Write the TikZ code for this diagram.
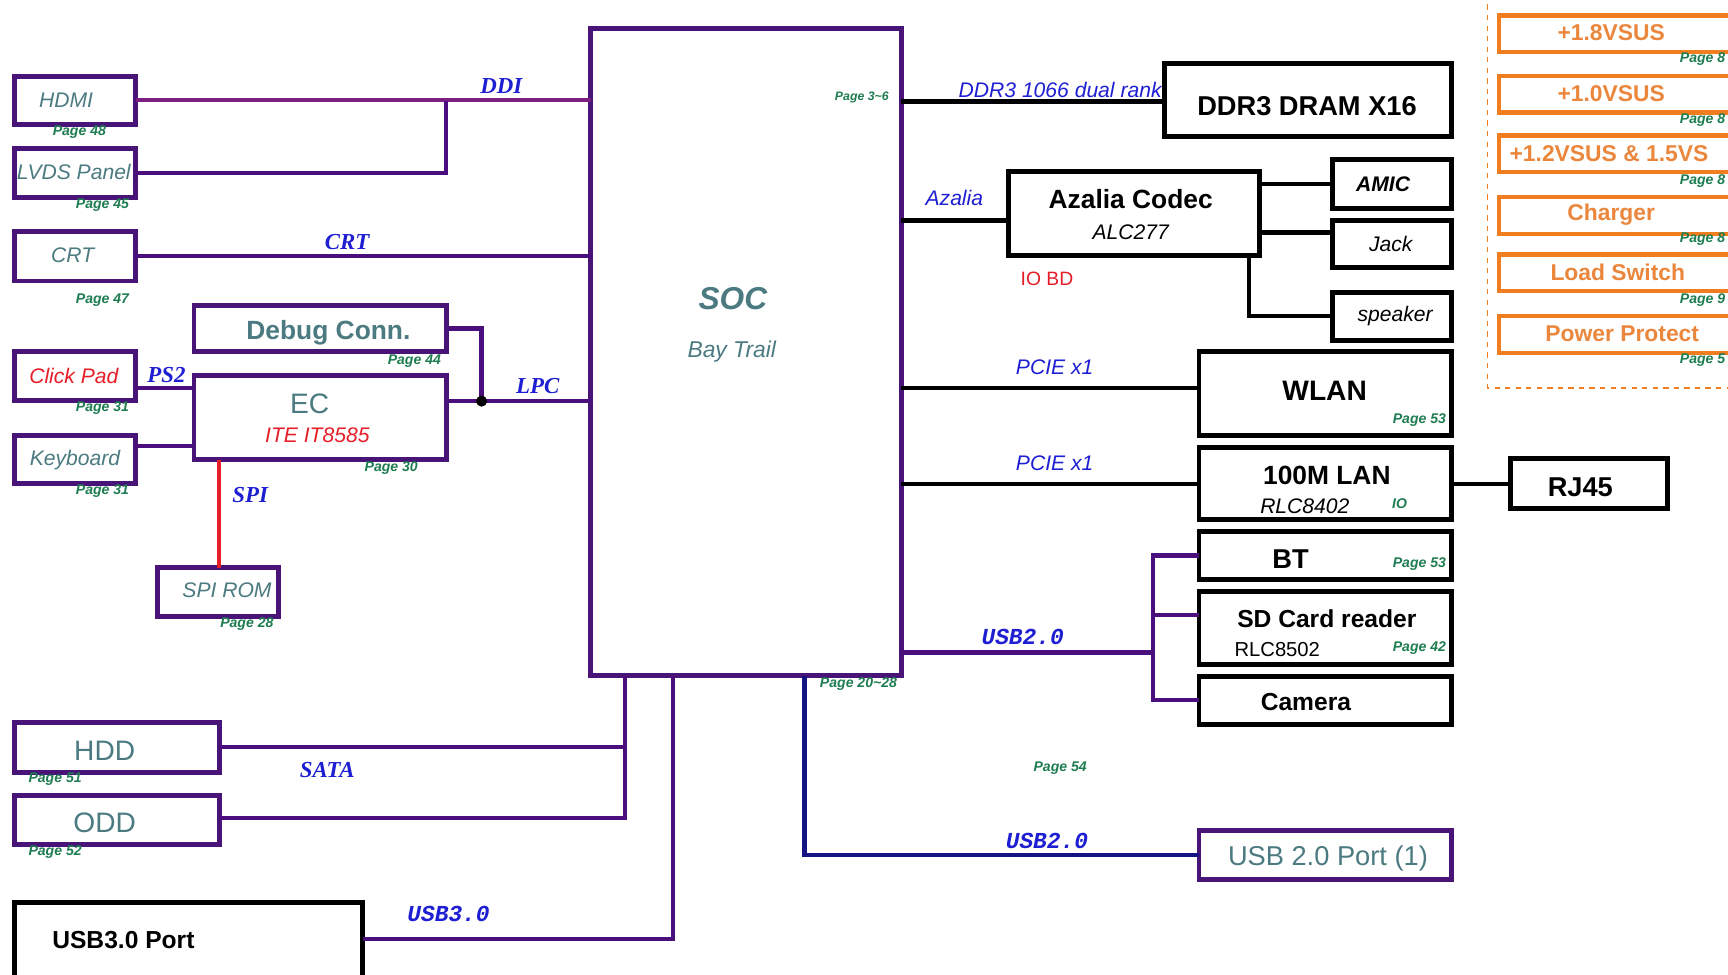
\documentclass[tikz,border=0pt]{standalone}
\usepackage{fontspec}
\setmainfont{Liberation Sans}
\newfontfamily\serifbi{Liberation Serif}
\newfontfamily\monobi{Liberation Mono}
\newlength\pxl
\setlength\pxl{0.02204cm}
\newcommand\fs[1]{\fontsize{#1}{#1}\selectfont}
\definecolor{boxpurple}{RGB}{72,20,120}
\definecolor{linepurple}{RGB}{75,15,125}
\definecolor{ddicol}{RGB}{125,30,130}
\definecolor{navyl}{RGB}{20,20,130}
\definecolor{tealt}{RGB}{75,122,128}
\definecolor{pgreen}{RGB}{30,125,80}
\definecolor{lblue}{RGB}{30,30,210}
\definecolor{orng}{RGB}{240,125,30}
\definecolor{otext}{RGB}{235,135,60}
\definecolor{redt}{RGB}{230,30,40}
\newcommand\bx[6]{\node[#1, minimum width={(#5-#3)*\pxl}, minimum height={(#6-#4)*\pxl}] (#2) at ({(#3+#5)/2},{(#4+#6)/2}) {};}
\tikzset{
  allbox/.style={rectangle, inner sep=0pt, outer sep=0pt, line width=2.8pt},
  pbox/.style={allbox, draw=boxpurple},
  kbox/.style={allbox, draw=black},
  obox/.style={allbox, draw=orng, line width=2.4pt},
  pline/.style={draw=linepurple, line width=2.4pt},
  dline/.style={draw=ddicol, line width=2.4pt},
  kline/.style={draw=black, line width=2.4pt},
  nline/.style={draw=navyl, line width=2.4pt},
  rline/.style={draw=redt, line width=2.4pt},
  txt/.style={inner sep=0pt},
  pg/.style={txt, text=pgreen, font=\fs{8}\bfseries\itshape},
  bser/.style={txt, text=lblue, font=\serifbi\fs{13}\bfseries\itshape},
  bmono/.style={txt, text=lblue, font=\monobi\fs{13}\bfseries\itshape},
  bsans/.style={txt, text=lblue, font=\fs{12}\itshape},
  tl/.style={txt, text=tealt},
  kt/.style={txt, text=black},
  ot/.style={txt, text=otext, font=\fs{13}\bfseries},
}
\begin{document}
\begin{tikzpicture}[x=0.02204cm, y=-0.02204cm]
\clip (0,0) rectangle (1568,884);
\fill[white] (0,0) rectangle (1568,884);
% ---------- boxes ----------
\bx{pbox}{soc}{536}{26}{818}{613}
\bx{pbox}{hdmi}{13}{69}{123}{113}
\bx{pbox}{lvds}{13}{135}{123}{179}
\bx{pbox}{crt}{13}{210}{123}{255}
\bx{pbox}{debug}{176}{277}{405}{319}
\bx{pbox}{clickpad}{13}{319}{123}{363}
\bx{pbox}{ec}{176}{341}{405}{417}
\bx{pbox}{keyboard}{13}{395}{123}{439}
\bx{pbox}{spirom}{143}{515}{253}{559}
\bx{pbox}{hdd}{13}{656}{199}{701}
\bx{pbox}{odd}{13}{722}{199}{766}
\bx{kbox}{usb3}{13}{819}{329}{895}
\bx{kbox}{ddr}{1057}{58}{1317}{124}
\bx{kbox}{codec}{915}{156}{1143}{232}
\bx{kbox}{amic}{1209}{145}{1317}{189}
\bx{kbox}{jack}{1209}{200}{1317}{243}
\bx{kbox}{speaker}{1209}{265}{1317}{309}
\bx{kbox}{wlan}{1088}{319}{1317}{395}
\bx{kbox}{lan}{1088}{406}{1317}{471}
\bx{kbox}{rj45}{1371}{416}{1513}{461}
\bx{kbox}{bt}{1088}{482}{1317}{526}
\bx{kbox}{sd}{1088}{537}{1317}{603}
\bx{kbox}{camera}{1088}{614}{1317}{657}
\bx{pbox}{usb2p}{1088}{754}{1317}{798}
% power column
\draw[orng, line width=0.8pt, dashed] (1350,4) -- (1350,352) -- (1570,352);
\bx{obox}{p18}{1360}{14}{1575}{47}
\bx{obox}{p10}{1360}{69}{1575}{102}
\bx{obox}{p12}{1360}{123}{1575}{156}
\bx{obox}{chg}{1360}{179}{1575}{212}
\bx{obox}{lsw}{1360}{231}{1575}{264}
\bx{obox}{pp}{1360}{287}{1575}{320}
% ---------- connectors ----------
\coordinate (ddij) at (405,92);
\draw[dline] (hdmi.east) -- (hdmi.east -| soc.west);
\draw[pline] (lvds.east) -| (ddij);
\draw[pline] (crt.east) -- (crt.east -| soc.west);
\coordinate (lpcdot) at (437,364);
\draw[pline] (debug.east) -| (lpcdot);
\draw[pline] (ec.east |- lpcdot) -- (lpcdot -| soc.west);
\fill[black] (lpcdot) circle[radius=5];
\draw[pline] (clickpad.east |- 0,352) -- (ec.west |- 0,352);
\draw[pline] (keyboard.east |- 0,405) -- (ec.west |- 0,405);
\draw[rline] (ec.south -| 199,0) -- (spirom.north -| 199,0);
\draw[pline] (hdd.east |- 0,678) -| (soc.south -| 567,0);
\draw[pline] (odd.east |- 0,742) -| (soc.south -| 567,0);
\draw[pline] (usb3.east |- 0,852) -| (soc.south -| 611,0);
\draw[nline] (usb2p.west) -| (soc.south -| 730,0);
\draw[kline] (ddr.west |- 0,92) -- (soc.east |- 0,92);
\draw[kline] (soc.east |- 0,200) -- (codec.west |- 0,200);
\draw[kline] (codec.east |- amic.west) -- (amic.west);
\draw[kline] (codec.east |- 0,211) -- (jack.west |- 0,211);
\draw[kline] (codec.south -| 1133,0) |- (speaker.west);
\draw[kline] (soc.east |- 0,352) -- (wlan.west |- 0,352);
\draw[kline] (soc.east |- 0,439) -- (lan.west |- 0,439);
\draw[kline] (lan.east |- 0,439) -- (rj45.west |- 0,439);
\coordinate (usbj) at (1046,592);
\draw[pline] (soc.east |- usbj) -- (usbj);
\draw[pline] (usbj) |- (bt.west);
\draw[pline] (usbj |- 0,558) -- (sd.west |- 0,558);
\draw[pline] (usbj) |- (camera.west);
% ---------- texts ----------
\node[tl, font=\fs{12}\itshape] (thdmi) at (60,91) {HDMI};
\node[pg] (pg48) at (72,120) {Page 48};
\node[tl, font=\fs{12}\itshape] (tlvds) at (67,156) {LVDS Panel};
\node[pg] (pg45) at (93,186) {Page 45};
\node[tl, font=\fs{12}\itshape] (tcrt) at (66,232) {CRT};
\node[pg] (pg47) at (93,272) {Page 47};
\node[bser] (lddi) at (455,78) {DDI};
\node[bser] (lcrt) at (315,220) {CRT};
\node[tl, font=\fs{15}\bfseries] (tdebug) at (298,302) {Debug Conn.};
\node[pg] (pg44) at (376,328) {Page 44};
\node[txt, text=redt, font=\fs{12}\itshape] (tclick) at (67,341) {Click Pad};
\node[bser] (lps2) at (151,340) {PS2};
\node[pg] (pg31a) at (93,370) {Page 31};
\node[tl, font=\fs{16}] (tec) at (281,366) {EC};
\node[txt, text=redt, font=\fs{12}\itshape] (tite) at (288,395) {ITE IT8585};
\node[pg] (pg30) at (355,425) {Page 30};
\node[bser] (llpc) at (488,350) {LPC};
\node[tl, font=\fs{12}\itshape] (tkbd) at (68,417) {Keyboard};
\node[pg] (pg31b) at (93,446) {Page 31};
\node[bser] (lspi) at (227,449) {SPI};
\node[tl, font=\fs{12}\itshape] (tspirom) at (206,536) {SPI ROM};
\node[pg] (pg28) at (224,566) {Page 28};
\node[tl, font=\fs{18}\bfseries\itshape] (tsoc) at (665,271) {SOC};
\node[tl, font=\fs{13}\itshape] (tbay) at (664,319) {Bay Trail};
\node[pg, font=\fs{7}\bfseries\itshape] (pg36) at (782,88) {Page 3\textasciitilde6};
\node[bsans] (lddr) at (962,82) {DDR3 1066 dual rank};
\node[kt, font=\fs{15.5}\bfseries] (tddr) at (1186,96) {DDR3 DRAM X16};
\node[bsans] (laz) at (866,180) {Azalia};
\node[kt, font=\fs{15}\bfseries] (tcodec) at (1026,181) {Azalia Codec};
\node[kt, font=\fs{12}\itshape] (talc) at (1026,211) {ALC277};
\node[txt, text=redt, font=\fs{11}] (tiobd) at (950,253) {IO BD};
\node[kt, font=\fs{12}\bfseries\itshape] (tamic) at (1255,167) {AMIC};
\node[kt, font=\fs{12}\itshape] (tjack) at (1262,221) {Jack};
\node[kt, font=\fs{12}\itshape] (tspk) at (1266,287) {speaker};
\node[bsans] (lpcie1) at (957,333) {PCIE x1};
\node[kt, font=\fs{16}\bfseries] (twlan) at (1202,355) {WLAN};
\node[pg] (pg53a) at (1288,381) {Page 53};
\node[bsans] (lpcie2) at (957,420) {PCIE x1};
\node[kt, font=\fs{15}\bfseries] (tlan) at (1204,431) {100M LAN};
\node[kt, font=\fs{12}\itshape] (trlc1) at (1184,459) {RLC8402};
\node[pg] (tio) at (1270,457) {IO};
\node[kt, font=\fs{15.5}\bfseries] (trj) at (1434,442) {RJ45};
\node[kt, font=\fs{15.5}\bfseries] (tbt) at (1171,507) {BT};
\node[pg] (pg53b) at (1288,512) {Page 53};
\node[kt, font=\fs{14}\bfseries] (tsd) at (1204,561) {SD Card reader};
\node[kt, font=\fs{11.5}] (trlc2) at (1159,589) {RLC8502};
\node[pg] (pg42) at (1288,588) {Page 42};
\node[kt, font=\fs{14}\bfseries] (tcam) at (1185,637) {Camera};
\node[bmono] (lusb2a) at (928,578) {USB2.0};
\node[pg] (pg2028) at (779,621) {Page 20\textasciitilde28};
\node[pg] (pg54) at (962,697) {Page 54};
\node[bmono] (lusb2b) at (950,763) {USB2.0};
\node[tl, font=\fs{15.5}] (tusb2p) at (1205,779) {USB 2.0 Port (1)};
\node[tl, font=\fs{16}] (thdd) at (95,681) {HDD};
\node[pg] (pg51) at (50,707) {Page 51};
\node[bser] (lsata) at (297,699) {SATA};
\node[tl, font=\fs{16}] (todd) at (95,747) {ODD};
\node[pg] (pg52) at (50,773) {Page 52};
\node[bmono] (lusb3) at (407,829) {USB3.0};
\node[kt, font=\fs{14}\bfseries] (tusb3) at (112,853) {USB3.0 Port};
% power texts
\node[ot] (t18) at (1462,30) {+1.8VSUS};
\node[ot] (t10) at (1462,85) {+1.0VSUS};
\node[ot] (t12) at (1460,139) {+1.2VSUS \& 1.5VS};
\node[ot] (tchg) at (1462,195) {Charger};
\node[ot] (tlsw) at (1468,247) {Load Switch};
\node[ot] (tpp) at (1472,303) {Power Protect};
\node[pg, anchor=west] (pgp1) at (1524,54) {Page 8};
\node[pg, anchor=west] (pgp2) at (1524,109) {Page 8};
\node[pg, anchor=west] (pgp3) at (1524,164) {Page 8};
\node[pg, anchor=west] (pgp4) at (1524,217) {Page 8};
\node[pg, anchor=west] (pgp5) at (1524,272) {Page 9};
\node[pg, anchor=west] (pgp6) at (1524,327) {Page 5};
\end{tikzpicture}
\end{document}
